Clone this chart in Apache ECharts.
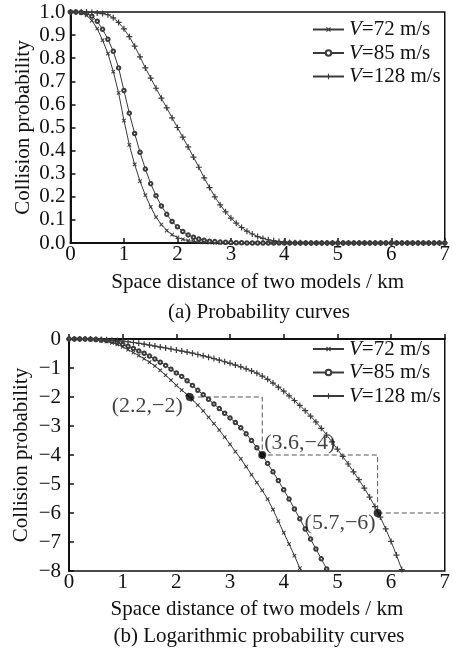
<!DOCTYPE html>
<html>
<head>
<meta charset="utf-8">
<script src="https://cdn.jsdelivr.net/npm/echarts@6/dist/echarts.min.js"></script>
<style>html,body{margin:0;padding:0;background:#fff}#c{width:453px;height:648px}</style>
</head>
<body>
<div id="c"></div>
<script>
// distance samples (km)
const dist = [
0,0.1,0.2,0.3,0.4,0.5,0.6,0.7,0.8,0.9,
1,1.1,1.2,1.3,1.4,1.5,1.6,1.7,1.8,1.9,
2,2.1,2.2,2.3,2.4,2.5,2.6,2.7,2.8,2.9,
3,3.1,3.2,3.3,3.4,3.5,3.6,3.7,3.8,3.9,
4,4.1,4.2,4.3,4.4,4.5,4.6,4.7,4.8,4.9,
5,5.1,5.2,5.3,5.4,5.5,5.6,5.7,5.8,5.9,
6,6.1,6.2,6.3,6.4,6.5,6.6,6.7,6.8,6.9,
7];
const seriesNames = ['V=72 m/s','V=85 m/s','V=128 m/s'];
// (a) probability
const probV72 = [
1,1,0.997,0.985,0.963,0.928,0.878,0.82,0.742,0.65,
0.53,0.425,0.34,0.268,0.207,0.156,0.112,0.08,0.054,0.036,
0.024,0.016,0.01,0.007,0.004,0.003,0.002,0.001,0.001,0,
0,0,0,0,0,0,0,0,0,0,
0,0,0,0,0,0,0,0,0,0,
0,0,0,0,0,0,0,0,0,0,
0,0,0,0,0,0,0,0,0,0,
0];
const probV85 = [
1,1,0.998,0.994,0.982,0.96,0.925,0.882,0.83,0.758,
0.66,0.562,0.474,0.393,0.32,0.257,0.205,0.16,0.124,0.093,
0.07,0.05,0.035,0.025,0.017,0.012,0.008,0.006,0.004,0.003,
0.002,0.001,0.001,0,0,0,0,0,0,0,
0,0,0,0,0,0,0,0,0,0,
0,0,0,0,0,0,0,0,0,0,
0,0,0,0,0,0,0,0,0,0,
0];
const probV128 = [
1,1,1,1,0.998,0.996,0.993,0.988,0.975,0.955,
0.927,0.893,0.852,0.806,0.758,0.714,0.67,0.627,0.585,0.542,
0.5,0.458,0.416,0.372,0.328,0.282,0.24,0.2,0.165,0.135,
0.108,0.086,0.067,0.051,0.039,0.028,0.02,0.014,0.01,0.006,
0.004,0.002,0.001,0.001,0,0,0,0,0,0,
0,0,0,0,0,0,0,0,0,0,
0,0,0,0,0,0,0,0,0,0,
0];
// (b) logarithmic probability
const logV72 = [
0,0,-0.001,-0.007,-0.016,-0.032,-0.057,-0.086,-0.13,-0.187,
-0.27,-0.37,-0.47,-0.57,-0.68,-0.8,-0.93,-1.08,-1.25,-1.42,
-1.6,-1.76,-1.92,-2.1,-2.28,-2.48,-2.7,-2.92,-3.14,-3.38,
-3.63,-3.88,-4.13,-4.4,-4.68,-4.95,-5.22,-5.52,-5.88,-6.28,
-6.68,-7.07,-7.47,-7.9,-8.35];
const logV85 = [
0,0,-0.001,-0.003,-0.008,-0.018,-0.034,-0.055,-0.081,-0.12,
-0.18,-0.25,-0.326,-0.41,-0.49,-0.59,-0.69,-0.8,-0.91,-1.04,
-1.17,-1.29,-1.44,-1.6,-1.77,-1.92,-2.08,-2.24,-2.4,-2.56,
-2.72,-2.88,-3.06,-3.27,-3.5,-3.75,-4.0,-4.29,-4.58,-4.88,
-5.2,-5.52,-5.86,-6.2,-6.55,-6.9,-7.24,-7.58,-7.93,-8.3];
const logV128 = [
0,0,0,0,0,-0.008,-0.016,-0.027,-0.04,-0.056,
-0.072,-0.095,-0.12,-0.148,-0.178,-0.21,-0.244,-0.278,-0.31,-0.345,
-0.38,-0.415,-0.45,-0.49,-0.535,-0.58,-0.625,-0.675,-0.73,-0.785,
-0.84,-0.9,-0.96,-1.03,-1.1,-1.18,-1.28,-1.39,-1.52,-1.66,
-1.8,-1.96,-2.12,-2.29,-2.47,-2.66,-2.86,-3.08,-3.31,-3.55,
-3.8,-4.05,-4.31,-4.58,-4.85,-5.14,-5.45,-5.78,-6.14,-6.55,
-6.98,-7.45,-7.95,-8.45];
// annotation points and dashed guide
const markX = [2.25,3.6,5.75];
const markY = [-2,-4,-6];
const markText = ['(2.2,\u22122)','(3.6,\u22124)','(5.7,\u22126)'];
const guideX = [2.25,3.6,3.6,5.75,5.75,7];
const guideY = [-2,-2,-4,-4,-6,-6];
const xTicks = {min:0,max:7,interval:1};
const yTicksA = {min:0,max:1,interval:0.1};
const yTicksB = {min:-8,max:0,interval:1};

const FONT = 'Liberation Serif';
const INK = '#111';
const LINE = '#3a3a3a';
const plusPath = 'path://M4,0H6V4H10V6H6V10H4V6H0V4H4Z';
const symbols = [
  {symbol: plusPath, rotate: 45, size: 5, border: 0},
  {symbol: 'emptyCircle', rotate: 0, size: 3.5, border: 0.6},
  {symbol: plusPath, rotate: 0, size: 6, border: 0}
];
function pairs(vals){ return vals.map((v,i)=>[dist[i], v]); }
function curve(name, vals, idx, k){
  const s = symbols[k];
  return {
    name, type:'line', xAxisIndex:idx, yAxisIndex:idx, data: pairs(vals),
    symbol: s.symbol, symbolRotate: s.rotate, symbolSize: s.size, showSymbol:true,
    lineStyle:{color:LINE, width:1},
    itemStyle:{color:LINE, borderColor:LINE, borderWidth:s.border},
    clip:true, z:3
  };
}
function xAxis(idx, gap){
  return {
    gridIndex: idx, type:'value', ...xTicks,
    name:'Space distance of two models / km', nameLocation:'middle', nameGap:gap,
    nameMoveOverlap:false,
    nameTextStyle:{fontFamily:FONT, fontSize:21, color:INK},
    axisLine:{lineStyle:{color:INK, width:2}},
    axisTick:{inside:true, length:5, lineStyle:{color:INK, width:1.5}},
    axisLabel:{fontFamily:FONT, fontSize:21, color:INK, margin:1},
    splitLine:{show:false}
  };
}
function yAxis(idx, ticks, fmt, margin, gap){
  return {
    gridIndex: idx, type:'value', ...ticks,
    name:'Collision probability', nameLocation:'middle', nameGap:gap, nameRotate:90,
    nameMoveOverlap:false,
    nameTextStyle:{fontFamily:FONT, fontSize:21, color:INK},
    axisLine:{lineStyle:{color:INK, width:2}},
    axisTick:{inside:true, length:5, lineStyle:{color:INK, width:1.5}},
    axisLabel:{fontFamily:FONT, fontSize:21, color:INK, margin:margin, formatter:fmt},
    splitLine:{show:false}
  };
}
function legend(top){
  return {
    data: seriesNames, orient:'vertical', left:312, top:top, padding:0,
    itemWidth:31, itemHeight:7, itemGap:2.5,
    formatter: n => '{i|V}' + n.slice(1),
    textStyle:{fontFamily:FONT, fontSize:21, color:INK,
      rich:{i:{fontFamily:FONT, fontSize:21, fontStyle:'italic', color:INK}}},
    selectedMode:false
  };
}
const chart = echarts.init(document.getElementById('c'), null, {renderer:'canvas'});
const option = {
  animation:false,
  backgroundColor:'#fff',
  grid:[
    {left:70.5, top:12, width:377.5, height:231, show:true, borderColor:INK, borderWidth:1.5},
    {left:69, top:339, width:379, height:232, show:true, borderColor:INK, borderWidth:1.5}
  ],
  xAxis:[xAxis(0,29), xAxis(1,28)],
  yAxis:[
    yAxis(0, yTicksA, v => v.toFixed(1), 5, 37),
    yAxis(1, yTicksB, v => v===0 ? '0' : '\u2212' + Math.abs(v), 8, 37)
  ],
  legend:[legend(19), legend(338.5)],
  series:[
    curve(seriesNames[0], probV72, 0, 0),
    curve(seriesNames[1], probV85, 0, 1),
    curve(seriesNames[2], probV128, 0, 2),
    curve(seriesNames[0], logV72, 1, 0),
    curve(seriesNames[1], logV85, 1, 1),
    curve(seriesNames[2], logV128, 1, 2),
    {
      type:'line', xAxisIndex:1, yAxisIndex:1, data: guideX.map((x,i)=>[x, guideY[i]]),
      showSymbol:false, symbol:'none', lineStyle:{color:'#555', width:1, type:[5,3]}, z:2, silent:true
    },
    {
      type:'scatter', xAxisIndex:1, yAxisIndex:1, symbolSize:8, z:5,
      itemStyle:{color:'#000'},
      data: markX.map((x,i)=>({
        value:[x, markY[i]],
        label:{
          show:true, formatter: markText[i], fontFamily:FONT, fontSize:22, color:INK,
          position: i===1 ? 'right' : 'left', distance:0,
          offset: i===0 ? [-3,9] : (i===1 ? [-2,-12] : [2,10])
        }
      }))
    }
  ],
  graphic:[
    {type:'text', x:259, y:312, style:{text:'(a) Probability curves', font:'21px "Liberation Serif"', fill:INK, textAlign:'center', textVerticalAlign:'middle'}},
    {type:'text', x:259, y:636, style:{text:'(b) Logarithmic probability curves', font:'21px "Liberation Serif"', fill:INK, textAlign:'center', textVerticalAlign:'middle'}}
  ]
};
chart.setOption(option);
</script>
</body>
</html>
